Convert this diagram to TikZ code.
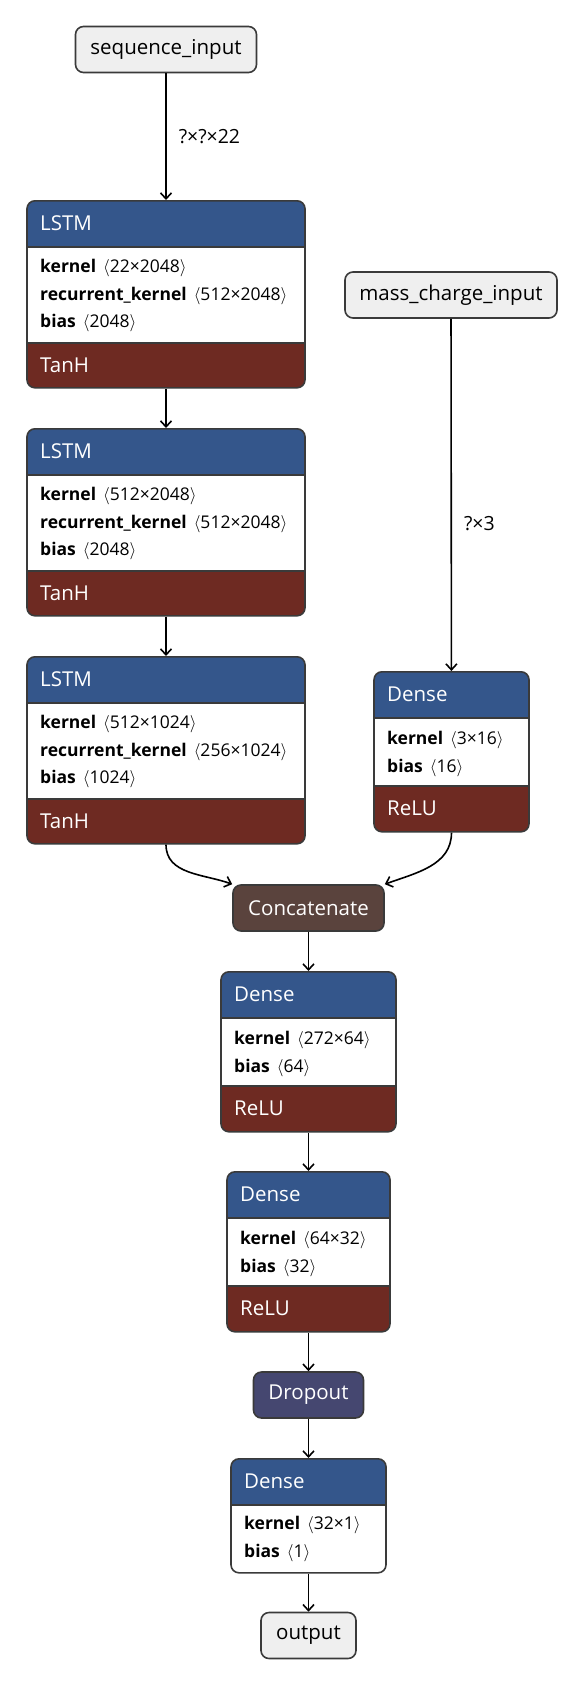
\documentclass[tikz,border=0pt]{standalone}
\usepackage{fontspec}
\setmainfont{Open Sans}
\usetikzlibrary{arrows.meta,positioning}

\definecolor{headblue}{HTML}{34568B}
\definecolor{actred}{HTML}{6E2A22}
\definecolor{mergebrown}{HTML}{5A433D}
\definecolor{dropviolet}{HTML}{454770}
\definecolor{iogray}{HTML}{EFEFEF}
\definecolor{framegray}{HTML}{3A3A3A}

% one weight line of a layer
\newcommand{\prm}[2]{\textbf{#1}\hspace{7pt}$\langle$#2$\rangle$}

\begin{document}
\begin{tikzpicture}[x=1pt, y=-1pt]
    \tikzset{layer/.style 2 args = {draw=framegray, line width=1.6pt, fill=white, rounded corners=8pt, inner sep=0pt,
        path picture={
            \fill[headblue, sharp corners] (path picture bounding box.north west) rectangle ([yshift=-#1]path picture bounding box.north east);
            \fill[actred, sharp corners] (path picture bounding box.south west) rectangle ([yshift=#2]path picture bounding box.south east);
            \draw[framegray, line width=1.6pt, sharp corners] ([yshift=-#1]path picture bounding box.north west) -- ([yshift=-#1]path picture bounding box.north east);
            \draw[framegray, line width=1.6pt, sharp corners] ([yshift=#2]path picture bounding box.south west) -- ([yshift=#2]path picture bounding box.south east);
        }}}
    \tikzset{io/.style = {draw=framegray, fill=iogray, line width=1.6pt, rounded corners=8pt, minimum height=46pt, inner sep=0pt, font=\fontsize{20.5}{24}\selectfont}}
    \tikzset{op/.style = {draw=framegray, line width=1.6pt, rounded corners=8pt, minimum height=46pt, inner sep=0pt, text=white, font=\fontsize{20.5}{24}\selectfont}}
    \tikzset{headtxt/.style = {anchor=west, inner sep=0pt, text=white, font=\fontsize{20.5}{24}\selectfont}}
    \tikzset{bodytxt/.style = {anchor=west, inner sep=0pt, align=left, font=\fontsize{17.5}{27.5}\selectfont}}
    \tikzset{shapelbl/.style = {inner sep=0pt, font=\fontsize{19.5}{22}\selectfont}}
    \tikzset{flow/.style = {draw=black, line width=1.6pt, -{Straight Barb[length=6pt, width=11pt]}}}

    \fill[white] (0,0) rectangle (584,1684);
    \useasboundingbox (0,0) rectangle (584,1684);

    % inputs
    \node[io, minimum width=181pt] (seqin) at (166,49.5) {sequence\_input};
    \node[io, minimum width=212pt] (mcin) at (451,295) {mass\_charge\_input};

    % lstm branch
    \node[layer={46}{45}, minimum width=278pt, minimum height=187pt, anchor=north] (lstma) at (166,200) {};
    \node[headtxt] (lstmahead) at (40,223) {LSTM};
    \node[bodytxt] (lstmabody) at (40,296) {\prm{kernel}{22×2048}\\\prm{recurrent\_kernel}{512×2048}\\\prm{bias}{2048}};
    \node[headtxt] (lstmaact) at (40,365) {TanH};

    \node[layer={46}{45}, minimum width=278pt, minimum height=187pt, anchor=north] (lstmb) at (166,428) {};
    \node[headtxt] (lstmbhead) at (40,451) {LSTM};
    \node[bodytxt] (lstmbbody) at (40,524) {\prm{kernel}{512×2048}\\\prm{recurrent\_kernel}{512×2048}\\\prm{bias}{2048}};
    \node[headtxt] (lstmbact) at (40,593) {TanH};

    \node[layer={46}{45}, minimum width=278pt, minimum height=187pt, anchor=north] (lstmc) at (166,656) {};
    \node[headtxt] (lstmchead) at (40,679) {LSTM};
    \node[bodytxt] (lstmcbody) at (40,752) {\prm{kernel}{512×1024}\\\prm{recurrent\_kernel}{256×1024}\\\prm{bias}{1024}};
    \node[headtxt] (lstmcact) at (40,821) {TanH};

    % mass/charge branch
    \node[layer={46}{46}, minimum width=155pt, minimum height=160pt, anchor=north] (densea) at (451.5,671) {};
    \node[headtxt] (denseahead) at (387,694) {Dense};
    \node[bodytxt] (denseabody) at (387,754) {\prm{kernel}{3×16}\\\prm{bias}{16}};
    \node[headtxt] (denseaact) at (387,808) {ReLU};

    % merged trunk
    \node[op, fill=mergebrown, minimum width=151pt] (concat) at (308.5,908) {Concatenate};

    \node[layer={46}{46}, minimum width=175pt, minimum height=160pt, anchor=north] (denseb) at (308.5,971) {};
    \node[headtxt] (densebhead) at (234,994) {Dense};
    \node[bodytxt] (densebbody) at (234,1054) {\prm{kernel}{272×64}\\\prm{bias}{64}};
    \node[headtxt] (densebact) at (234,1108) {ReLU};

    \node[layer={46}{46}, minimum width=163pt, minimum height=160pt, anchor=north] (densec) at (308.5,1171) {};
    \node[headtxt] (densechead) at (240,1194) {Dense};
    \node[bodytxt] (densecbody) at (240,1254) {\prm{kernel}{64×32}\\\prm{bias}{32}};
    \node[headtxt] (densecact) at (240,1308) {ReLU};

    \node[op, fill=dropviolet, minimum width=110pt] (drop) at (308.5,1395) {Dropout};

    \node[layer={46}{0}, minimum width=155pt, minimum height=114pt, anchor=north] (densed) at (308.5,1458) {};
    \node[headtxt] (densedhead) at (244,1481) {Dense};
    \node[bodytxt] (densedbody) at (244,1539) {\prm{kernel}{32×1}\\\prm{bias}{1}};

    \node[io, minimum width=95pt] (out) at (308.5,1635.5) {output};

    % edges
    \draw[flow] (seqin) -- node[shapelbl, right=12pt] (seqshape) {?×?×22} (lstma);
    \draw[flow] (lstma) -- (lstmb);
    \draw[flow] (lstmb) -- (lstmc);
    \draw[flow] (mcin) -- node[shapelbl, right=12pt, pos=0.58] (mcshape) {?×3} (densea);
    \draw[flow] (lstmc.south) to[out=-90, in=160] (concat.north west);
    \draw[flow] (densea.south) to[out=-90, in=20] (concat.north east);
    \draw[flow] (concat) -- (denseb);
    \draw[flow] (denseb) -- (densec);
    \draw[flow] (densec) -- (drop);
    \draw[flow] (drop) -- (densed);
    \draw[flow] (densed) -- (out);
\end{tikzpicture}
\end{document}
